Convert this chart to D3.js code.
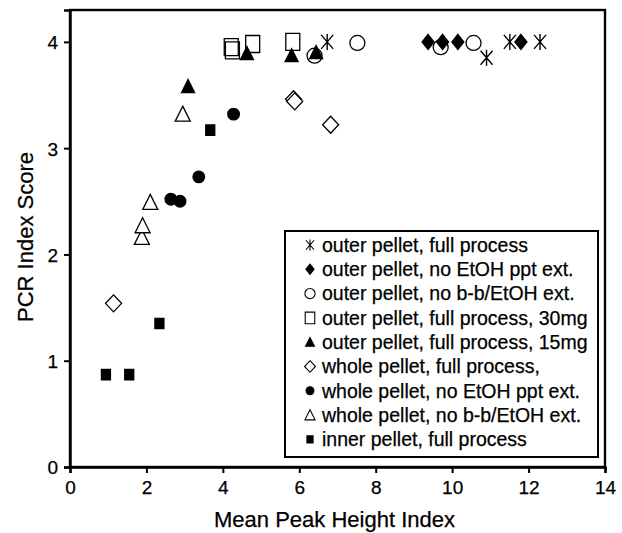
<!DOCTYPE html>
<html>
<head>
<meta charset="utf-8">
<script src="https://cdn.jsdelivr.net/npm/d3@7/dist/d3.min.js"></script>
<style>
    body { margin: 0; background: #fff; }
    text { font-family: "Liberation Sans", Arial, sans-serif; fill: #000; stroke: #000; stroke-width: 0.25px; }
</style>
</head>
<body>
<div id="chart"></div>
<script>
// data: [mean peak height index, PCR index score]
let outerFull     = [[6.73, 4.0], [10.90, 3.85], [11.51, 4.0], [12.30, 4.0]];
let outerNoEtOH   = [[9.37, 4.0], [9.75, 4.0], [10.15, 4.0], [11.80, 4.0]];
let outerNoBB     = [[6.40, 3.87], [7.52, 3.99], [9.70, 3.95], [10.56, 3.99]];
let outer30mg     = [[4.22, 3.95], [4.25, 3.92], [4.78, 3.98], [5.83, 4.0]];
let outer15mg     = [[3.09, 3.58], [4.63, 3.89], [5.80, 3.87], [6.44, 3.90]];
let wholeFull     = [[1.14, 1.54], [5.85, 3.46], [5.88, 3.44], [6.82, 3.22]];
let wholeNoEtOH   = [[2.64, 2.52], [2.88, 2.50], [3.37, 2.73], [4.28, 3.32]];
let wholeNoBB     = [[1.88, 2.16], [1.90, 2.27], [2.10, 2.49], [2.95, 3.32]];
let innerFull     = [[0.94, 0.87], [1.55, 0.87], [2.34, 1.35], [3.67, 3.17]];

let seriesNames = [
    "outer pellet, full process",
    "outer pellet, no EtOH ppt ext.",
    "outer pellet, no b-b/EtOH ext.",
    "outer pellet, full process, 30mg",
    "outer pellet, full process, 15mg",
    "whole pellet, full process,",
    "whole pellet, no EtOH ppt ext.",
    "whole pellet, no b-b/EtOH ext.",
    "inner pellet, full process"
];
let xTicks = [0, 2, 4, 6, 8, 10, 12, 14];
let yTicks = [0, 1, 2, 3, 4];

// marker shapes, k scales them down for the legend
function markerPath(type, k) {
    let p = d3.path();
    let s = function (v) { return v * k; };
    if (type === "star") {
        p.moveTo(s(-6), s(-7)); p.lineTo(s(6), s(7));
        p.moveTo(s(6), s(-7)); p.lineTo(s(-6), s(7));
        p.moveTo(0, s(-8)); p.lineTo(0, s(8));
    } else if (type === "diamondF") {
        p.moveTo(0, s(-7.5)); p.lineTo(s(6), 0); p.lineTo(0, s(7.5)); p.lineTo(s(-6), 0); p.closePath();
    } else if (type === "diamondO") {
        p.moveTo(0, s(-8.5)); p.lineTo(s(8), 0); p.lineTo(0, s(8.5)); p.lineTo(s(-8), 0); p.closePath();
    } else if (type === "circleO") {
        p.ellipse ? p.ellipse(0, 0, s(7), s(8), 0, 0, 2 * Math.PI) : p.arc(0, 0, s(7.5), 0, 2 * Math.PI);
    } else if (type === "circleF") {
        p.arc(0, 0, s(5.8), 0, 2 * Math.PI);
    } else if (type === "squareO") {
        p.rect(s(-7), s(-8.5), s(14), s(17));
    } else if (type === "squareF") {
        p.rect(s(-4.5), s(-5.2), s(9), s(10.4));
    } else if (type === "triF") {
        p.moveTo(0, s(-7)); p.lineTo(s(6.5), s(6)); p.lineTo(s(-6.5), s(6)); p.closePath();
    } else if (type === "triO") {
        p.moveTo(0, s(-8)); p.lineTo(s(7.5), s(7)); p.lineTo(s(-7.5), s(7)); p.closePath();
    }
    return p.toString();
}

let series = [
    { name: seriesNames[0], data: outerFull,   type: "star",     fill: "none" },
    { name: seriesNames[1], data: outerNoEtOH, type: "diamondF", fill: "#000" },
    { name: seriesNames[2], data: outerNoBB,   type: "circleO",  fill: "none" },
    { name: seriesNames[3], data: outer30mg,   type: "squareO",  fill: "none" },
    { name: seriesNames[4], data: outer15mg,   type: "triF",     fill: "#000" },
    { name: seriesNames[5], data: wholeFull,   type: "diamondO", fill: "#fff" },
    { name: seriesNames[6], data: wholeNoEtOH, type: "circleF",  fill: "#000" },
    { name: seriesNames[7], data: wholeNoBB,   type: "triO",     fill: "#fff" },
    { name: seriesNames[8], data: innerFull,   type: "squareF",  fill: "#000" }
];

let margin = { top: 10, right: 17, bottom: 66, left: 70 };
let totalW = 622, totalH = 533;
let width = totalW - margin.left - margin.right;
let height = totalH - margin.top - margin.bottom;

let svg = d3.select("#chart").append("svg")
    .attr("width", totalW)
    .attr("height", totalH)
    .append("g")
    .attr("transform", "translate(" + margin.left + "," + margin.top + ")");

let x = d3.scaleLinear().domain([0, 14]).range([0, width]);
let y = d3.scaleLinear().domain([0, 4.3]).range([height, 0]);

// frame
svg.append("rect")
    .attr("x", 0).attr("y", 0)
    .attr("width", width).attr("height", height)
    .attr("fill", "none")
    .attr("stroke", "#000")
    .attr("stroke-width", 2.4);

let xAxis = d3.axisBottom(x).tickValues(xTicks).tickSize(6).tickPadding(8).tickFormat(d3.format("d"));
let yAxis = d3.axisLeft(y).tickValues(yTicks).tickSize(6).tickPadding(6).tickFormat(d3.format("d"));

let gx = svg.append("g")
    .attr("class", "x-axis axis")
    .attr("transform", "translate(0," + height + ")")
    .call(xAxis);
let gy = svg.append("g")
    .attr("class", "y-axis axis")
    .call(yAxis);

[gx, gy].forEach(function (g) {
    g.select(".domain").attr("stroke-width", 2.4);
    g.selectAll(".tick line").attr("stroke-width", 2);
    g.selectAll(".tick text")
        .style("font-family", "'Liberation Sans', Arial, sans-serif")
        .style("font-size", "19px");
});
gy.selectAll(".tick text").attr("dy", "0.36em");

// axis titles
svg.append("text")
    .attr("x", width / 2 - 3)
    .attr("y", height + 60)
    .style("text-anchor", "middle")
    .style("font-size", "22px")
    .text("Mean Peak Height Index");

svg.append("text")
    .attr("transform", "rotate(-90)")
    .attr("x", -(237 - margin.top))
    .attr("y", -margin.left + 33)
    .style("text-anchor", "middle")
    .style("font-size", "22px")
    .text("PCR Index Score");

// points
series.forEach(function (s) {
    svg.selectAll(null)
        .data(s.data)
        .enter()
        .append("path")
        .attr("transform", function (d) { return "translate(" + x(d[0]) + "," + y(d[1]) + ")"; })
        .attr("d", markerPath(s.type, 1))
        .attr("fill", s.fill)
        .attr("stroke", "#000")
        .attr("stroke-width", s.type === "star" ? 1.4 : 1.3);
});

// legend
let legend = svg.append("g")
    .attr("transform", "translate(" + (285 - margin.left) + "," + (231 - margin.top) + ")");

legend.append("rect")
    .attr("width", 313)
    .attr("height", 226)
    .attr("fill", "#fff")
    .attr("stroke", "#000")
    .attr("stroke-width", 2);

let rows = legend.selectAll(".legend-row")
    .data(series)
    .enter()
    .append("g")
    .attr("class", "legend-row")
    .attr("transform", function (d, i) { return "translate(0," + (14 + i * 24.3) + ")"; });

rows.append("path")
    .attr("transform", "translate(25,0)")
    .attr("d", function (d) { return markerPath(d.type, 0.68); })
    .attr("fill", function (d) { return d.fill; })
    .attr("stroke", "#000")
    .attr("stroke-width", 1.1);

rows.append("text")
    .attr("x", 37)
    .attr("dy", "0.35em")
    .style("font-size", "19.5px")
    .text(function (d) { return d.name; });
</script>
</body>
</html>
